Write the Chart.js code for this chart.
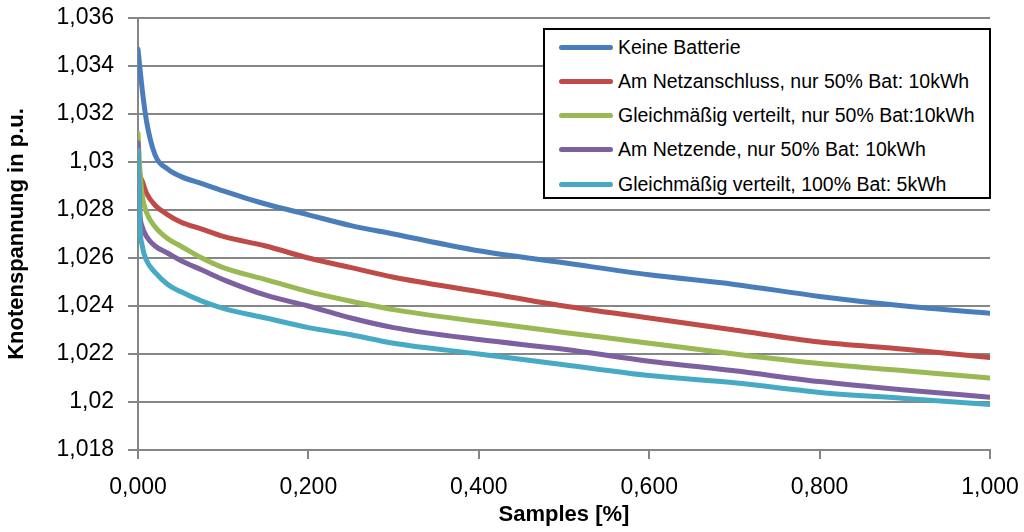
<!DOCTYPE html>
<html>
<head>
<meta charset="utf-8">
<script src="https://cdn.jsdelivr.net/npm/chart.js@4"></script>
<style>
  html, body { margin: 0; background: #fff; overflow: hidden; }
  #wrap { position: relative; width: 1024px; height: 532px; }
  #chart { display: block; }
  #legend {
    position: absolute; left: 543px; top: 28px; width: 444px; height: 167px;
    border: 2px solid #000; background: #fff;
    font-family: "Liberation Sans", Arial, sans-serif; font-size: 19.5px; color: #000;
  }
  .item { position: absolute; left: 14px; height: 24px; display: flex; align-items: center; white-space: nowrap; }
  .swatch { width: 54px; height: 5px; border-radius: 3px; margin-right: 5px; }
</style>
</head>
<body>
<div id="wrap">
  <canvas id="chart" width="1024" height="532"></canvas>
  <div id="legend"></div>
</div>
<script>
// sample share (x axis)
const xValues = [0, 0.002, 0.005, 0.01, 0.02, 0.035, 0.05, 0.075, 0.1, 0.15, 0.2, 0.25, 0.3, 0.4, 0.5, 0.6, 0.7, 0.8, 0.9, 1.0];

// node voltages in p.u.
const keineBatterie = [1.0347, 1.0340, 1.0330, 1.0317, 1.0303, 1.0297, 1.0294, 1.0291, 1.0288, 1.02825, 1.0278, 1.02735, 1.0270, 1.0263, 1.0258, 1.0253, 1.0249, 1.0244, 1.0240, 1.0237];
const amNetzanschluss = [1.0300, 1.0295, 1.0292, 1.0287, 1.0282, 1.0278, 1.0275, 1.0272, 1.0269, 1.0265, 1.0260, 1.0256, 1.0252, 1.0246, 1.0240, 1.0235, 1.0230, 1.0225, 1.0222, 1.02185];
const gleichmaessig50 = [1.0312, 1.0298, 1.0286, 1.0279, 1.0273, 1.0268, 1.0265, 1.0260, 1.0256, 1.0251, 1.0246, 1.0242, 1.02385, 1.02335, 1.0229, 1.02245, 1.0220, 1.0216, 1.0213, 1.0210];
const amNetzende = [1.0308, 1.0280, 1.0273, 1.0269, 1.0265, 1.0262, 1.0259, 1.0255, 1.0251, 1.02445, 1.0240, 1.0235, 1.0231, 1.0226, 1.0222, 1.0217, 1.0213, 1.02085, 1.0205, 1.0202];
const gleichmaessig100 = [1.0305, 1.0275, 1.0265, 1.0259, 1.0254, 1.0249, 1.0246, 1.0242, 1.0239, 1.0235, 1.0231, 1.0228, 1.02245, 1.0220, 1.02155, 1.0211, 1.0208, 1.0204, 1.02015, 1.0199];

const seriesNames = [
  'Keine Batterie',
  'Am Netzanschluss, nur 50% Bat: 10kWh',
  'Gleichmäßig verteilt, nur 50% Bat:10kWh',
  'Am Netzende, nur 50% Bat: 10kWh',
  'Gleichmäßig verteilt, 100% Bat: 5kWh'
];
const seriesValues = [keineBatterie, amNetzanschluss, gleichmaessig50, amNetzende, gleichmaessig100];
const seriesColors = ['#4A7EBB', '#BE4B48', '#98B954', '#7D60A0', '#46AAC5'];

const gridColor = '#868686';
const tickFont = { family: 'Liberation Sans', size: 23 };
const titleFont = { family: 'Liberation Sans', size: 22, weight: 'bold' };

const datasets = seriesValues.map((vals, i) => ({
  label: seriesNames[i],
  data: vals.map((v, j) => ({ x: xValues[j], y: v })),
  borderColor: seriesColors[i],
  backgroundColor: seriesColors[i],
  borderWidth: 5,
  pointRadius: 0,
  cubicInterpolationMode: 'monotone',
  borderCapStyle: 'round',
  order: seriesValues.length - 1 - i // last series on top, like the original
}));

// keep the plot box where the original has it (138..990 x 18..450)
const noLabelPadding = s => {
  s.paddingTop = 0; s.paddingBottom = 0; s.paddingLeft = 0; s.paddingRight = 0;
};

const chart = new Chart(document.getElementById('chart').getContext('2d'), {
  type: 'line',
  data: { datasets: datasets },
  options: {
    responsive: false,
    animation: false,
    layout: { padding: { left: 4, top: 18, right: 34, bottom: 4 } },
    plugins: { legend: { display: false }, tooltip: { enabled: false } },
    scales: {
      x: {
        type: 'linear',
        min: 0,
        max: 1,
        ticks: {
          stepSize: 0.2,
          color: '#000',
          font: tickFont,
          padding: 15,
          maxRotation: 0,
          callback: v => v.toFixed(3).replace('.', ',')
        },
        grid: { drawOnChartArea: false, color: gridColor, lineWidth: 2, tickLength: 9 },
        border: { color: gridColor, width: 2 },
        title: { display: true, text: 'Samples [%]', color: '#000', font: titleFont, padding: { top: 0, bottom: 0 } },
        afterFit: s => { s.height = 532 - 450 - 4; noLabelPadding(s); }
      },
      y: {
        min: 1.018,
        max: 1.036,
        ticks: {
          stepSize: 0.002,
          color: '#000',
          font: tickFont,
          padding: 14,
          callback: v => String(parseFloat(v.toFixed(3))).replace('.', ',')
        },
        grid: { color: gridColor, lineWidth: 2, tickLength: 10 },
        border: { color: gridColor, width: 2 },
        title: { display: true, text: 'Knotenspannung in p.u.', color: '#000', font: titleFont, padding: { top: 0, bottom: 0 } },
        afterFit: s => { s.width = 138 - 4; noLabelPadding(s); }
      }
    }
  }
});

// legend box built from the datasets
const legend = document.getElementById('legend');
chart.data.datasets.forEach((ds, i) => {
  const item = document.createElement('div');
  item.className = 'item';
  item.style.top = (5 + i * 34.3) + 'px';
  const sw = document.createElement('span');
  sw.className = 'swatch';
  sw.style.background = ds.borderColor;
  const txt = document.createElement('span');
  txt.textContent = ds.label;
  item.appendChild(sw);
  item.appendChild(txt);
  legend.appendChild(item);
});
</script>
</body>
</html>
